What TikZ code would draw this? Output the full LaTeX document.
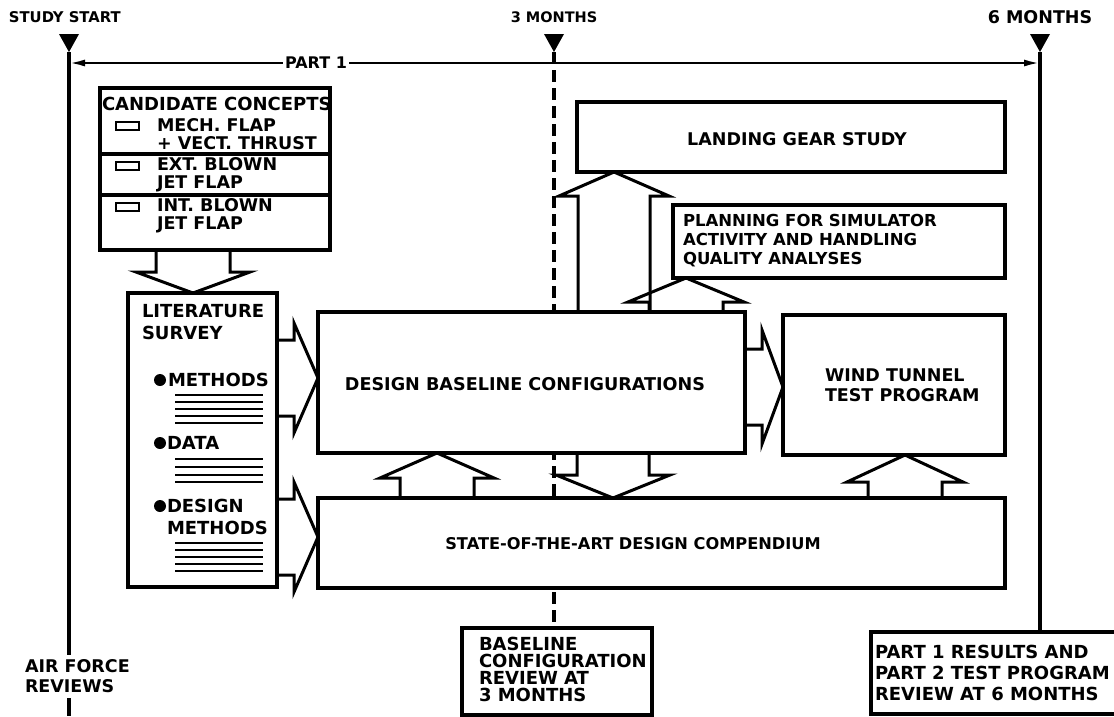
\documentclass[tikz,border=0pt]{standalone}
\usepackage{fontspec}
\setmainfont{DejaVu Sans}
\usetikzlibrary{arrows.meta,calc}
\newcommand{\fnt}[2]{\fontsize{#1}{#2}\selectfont\bfseries}
% block arrows: #1 axis position, #2 tip anchor, #3 base anchor, #4 head half width, #5 shaft half width, #6 head length
\newcommand{\blkUp}[6]{%
 \draw[blk] ($(#1,0 |- #3)+(-#5,0)$) -- ($(#1,0 |- #2)+(-#5,#6)$) -- ($(#1,0 |- #2)+(-#4,#6)$) -- (#1,0 |- #2) -- ($(#1,0 |- #2)+(#4,#6)$) -- ($(#1,0 |- #2)+(#5,#6)$) -- ($(#1,0 |- #3)+(#5,0)$);}
\newcommand{\blkDown}[6]{%
 \draw[blk] ($(#1,0 |- #3)+(-#5,0)$) -- ($(#1,0 |- #2)+(-#5,-#6)$) -- ($(#1,0 |- #2)+(-#4,-#6)$) -- (#1,0 |- #2) -- ($(#1,0 |- #2)+(#4,-#6)$) -- ($(#1,0 |- #2)+(#5,-#6)$) -- ($(#1,0 |- #3)+(#5,0)$);}
\newcommand{\blkRight}[6]{%
 \draw[blk] ($(#3 |- 0,#1)+(0,-#5)$) -- ($(#2 |- 0,#1)+(-#6,-#5)$) -- ($(#2 |- 0,#1)+(-#6,-#4)$) -- (#2 |- 0,#1) -- ($(#2 |- 0,#1)+(-#6,#4)$) -- ($(#2 |- 0,#1)+(-#6,#5)$) -- ($(#3 |- 0,#1)+(0,#5)$);}

\begin{document}
\begin{tikzpicture}[x=1pt,y=-1pt,
  lw/.style={line width=3.2pt},
  box/.style={draw, line width=3.2pt, fill=white, anchor=north west, inner sep=0pt, outer sep=0pt},
  txt/.style={font=\fnt{18}{19}, inner sep=0pt, outer sep=0pt, align=left},
  blk/.style={draw, line width=3pt, line join=miter},
  tri/.style={fill=black},
  hatch/.style={line width=2.6pt}]
\useasboundingbox (0,0) rectangle (1114,716);
\clip (0,0) rectangle (1114,716);

% ---------- time line ----------
\node[txt, anchor=west, font=\fnt{14.8}{16}] (lss) at (9,17) {STUDY START};
\node[txt, anchor=center, font=\fnt{14.5}{16}] (l3m) at (554,17) {3 MONTHS};
\node[txt, anchor=center, font=\fnt{17.5}{19}] (l6m) at (1040,17) {6 MONTHS};
\coordinate (ss) at (69,52);
\coordinate (m3) at (554,52);
\coordinate (m6) at (1040,52);
\fill[tri] (59,34) -- (79,34) -- (ss) -- cycle;
\fill[tri] (544,34) -- (564,34) -- (m3) -- cycle;
\fill[tri] (1030,34) -- (1050,34) -- (m6) -- cycle;
\coordinate (ssL) at (69,63);
\coordinate (m6R) at (1040,63);
\draw[line width=2.4pt, {Latex[length=16pt,width=7pt]}-{Latex[length=16pt,width=7pt]}] (ssL) -- (m6R);
\node[txt, fill=white, inner xsep=2pt, font=\fnt{16}{18}] (part1) at (316,63) {PART 1};

% reviews
\node[txt, anchor=west, font=\fnt{17.5}{20}] (afr) at (25,676) {AIR FORCE\\REVIEWS};
\coordinate (ssB) at (69,716);
\draw[lw] (ss) -- (69,655);
\draw[lw] (69,698) -- (ssB);

% boxes
\node[box, minimum width=190, minimum height=87] (blr) at (462,628) {};
\node[box, minimum width=250, minimum height=82] (p1r) at (871,632) {};
\draw[lw, dash pattern=on 12pt off 6pt] (m3) -- (blr.north -| m3);
\draw[lw] (m6) -- (p1r.north -| m6);

\node[box, minimum width=230, minimum height=162] (cand) at (100,88) {};
\node[box, minimum width=149, minimum height=294] (lit) at (128,293) {};
\node[box, minimum width=427, minimum height=141] (dbc) at (318,312) {};
\node[box, minimum width=428, minimum height=70] (lg) at (577,102) {};
\node[box, minimum width=332, minimum height=73] (plan) at (673,205) {};
\node[box, minimum width=222, minimum height=140] (wt) at (783,315) {};
\node[box, minimum width=687, minimum height=90] (sota) at (318,498) {};

% candidate concepts contents
\draw[lw] (cand.west |- 0,154) -- (cand.east |- 0,154);
\draw[lw] (cand.west |- 0,195) -- (cand.east |- 0,195);
\node[txt, anchor=west] (cc) at (102,104) {CANDIDATE CONCEPTS};
\draw[line width=2.4pt] (116,122) rectangle (139,130);
\draw[line width=2.4pt] (116,162) rectangle (139,170);
\draw[line width=2.4pt] (116,203) rectangle (139,211);
\node[txt, anchor=west, font=\fnt{17.5}{18}] (c1) at (157,134) {MECH. FLAP\\+ VECT. THRUST};
\node[txt, anchor=west, font=\fnt{17.5}{18}] (c2) at (157,175) {EXT. BLOWN\\JET FLAP};
\node[txt, anchor=west, font=\fnt{17.5}{18}] (c3) at (157,216) {INT. BLOWN\\JET FLAP};

% literature contents
\node[txt, anchor=west, font=\fnt{18}{22}] (lt) at (142,322) {LITERATURE\\SURVEY};
\fill (160,380) circle (6pt);
\node[txt, anchor=west] (lm) at (168,380) {METHODS};
\foreach \y in {395,402,409,416,423} \draw[hatch] (175,\y) -- (263,\y);
\fill (160,443) circle (6pt);
\node[txt, anchor=west] (ld) at (167,443) {DATA};
\foreach \y in {459,467,475,482} \draw[hatch] (175,\y) -- (263,\y);
\fill (160,506) circle (6pt);
\node[txt, anchor=west, font=\fnt{18}{22}] (ldm) at (167,517) {DESIGN\\METHODS};
\foreach \y in {543,550,557,564,571} \draw[hatch] (175,\y) -- (263,\y);

% box texts
\node[txt, font=\fnt{17.6}{19}] (dbct) at (525,384) {DESIGN BASELINE CONFIGURATIONS};
\node[txt, font=\fnt{17.5}{19}] (lgt) at (797,139) {LANDING GEAR STUDY};
\node[txt, anchor=west, font=\fnt{16.5}{19}] (plt) at (683,241) {PLANNING FOR SIMULATOR\\ACTIVITY AND HANDLING\\QUALITY ANALYSES};
\node[txt, anchor=west, font=\fnt{17.5}{20}] (wtt) at (825,385) {WIND TUNNEL\\TEST PROGRAM};
\node[txt, font=\fnt{16.2}{19}] (sotat) at (633,544) {STATE-OF-THE-ART DESIGN COMPENDIUM};
\node[txt, anchor=west, font=\fnt{18}{17}] (blrt) at (479,669) {BASELINE\\CONFIGURATION\\REVIEW AT\\3 MONTHS};
\node[txt, anchor=west, font=\fnt{18}{21}] (p1rt) at (875,673) {PART 1 RESULTS AND\\PART 2 TEST PROGRAM\\REVIEW AT 6 MONTHS};

% block arrows
\blkDown{193}{lit.north}{cand.south}{57}{37}{21}
\blkRight{378}{dbc.west}{lit.east}{55}{38}{24}
\blkRight{537}{sota.west}{lit.east}{55}{38}{24}
\blkRight{387}{wt.west}{dbc.east}{57}{38}{21}
\blkUp{437}{dbc.south}{sota.north}{57}{37}{25}
\blkDown{613}{sota.north}{dbc.south}{57}{36}{23}
\blkUp{614}{lg.south}{dbc.north}{55}{36}{24}
\blkUp{686}{plan.south}{dbc.north}{58}{37}{24}
\blkUp{905}{wt.south}{sota.north}{58}{37}{27}
\end{tikzpicture}
\end{document}
